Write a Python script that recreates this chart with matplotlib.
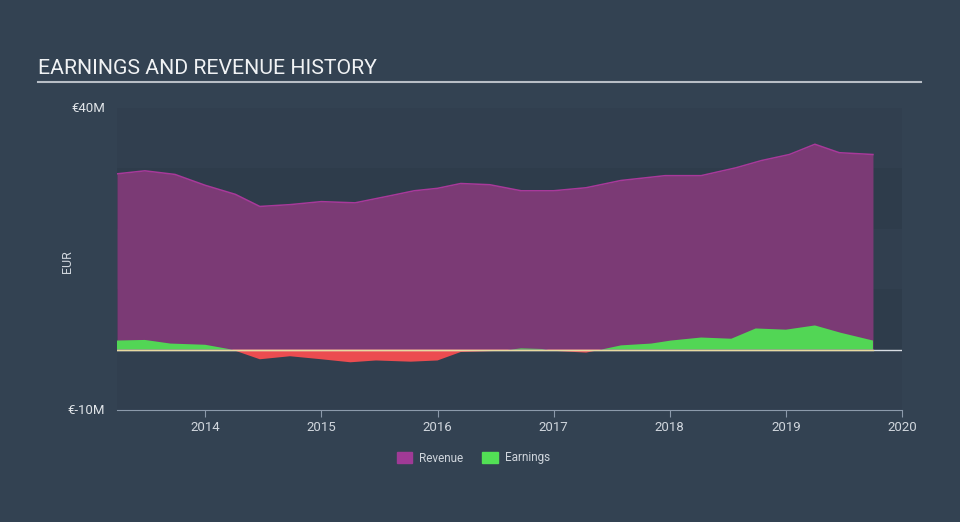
import numpy as np
import matplotlib.pyplot as plt
from matplotlib.patches import Patch

plt.rcParams['font.family'] = ['Roboto', 'DejaVu Sans']

# valeurs (millions EUR)
annees = [2013.24, 2013.48, 2013.74, 2014.0, 2014.26, 2014.47, 2014.73, 2015.0,
          2015.29, 2015.6, 2015.8, 2016.0, 2016.2, 2016.45, 2016.72, 2017.0,
          2017.28, 2017.58, 2017.96, 2018.27, 2018.57, 2018.79, 2019.03,
          2019.25, 2019.46, 2019.75]
revenus = [29.1, 29.6, 29.0, 27.2, 25.7, 23.7, 24.0, 24.5, 24.3, 25.5, 26.3,
           26.7, 27.5, 27.3, 26.3, 26.3, 26.8, 28.0, 28.8, 28.8, 30.1, 31.3,
           32.3, 34.0, 32.6, 32.3]

annees_res = [2013.24, 2013.48, 2013.7, 2014.0, 2014.23, 2014.47, 2014.73,
              2015.0, 2015.25, 2015.47, 2015.77, 2016.0, 2016.2, 2016.54,
              2016.72, 2016.9, 2017.0, 2017.28, 2017.41, 2017.58, 2017.84,
              2018.01, 2018.27, 2018.53, 2018.74, 2019.0, 2019.25, 2019.47,
              2019.75]
resultats = [1.5, 1.6, 1.0, 0.8, 0.0, -1.6, -1.1, -1.6, -2.1, -1.8, -2.0, -1.8,
             -0.4, -0.2, 0.2, 0.1, -0.2, -0.5, 0.0, 0.7, 1.0, 1.5, 2.0, 1.8,
             3.5, 3.3, 4.0, 2.8, 1.5]

fond = '#334252'
fig = plt.figure(figsize=(9.6, 5.22), dpi=100, facecolor=fond)
ax = fig.add_axes([117/960, 112/522, 785/960, 302/522])
ax.set_facecolor('#2f3d4c')

# bandes horizontales (tres discretes)
for i, (b, h) in enumerate([(30, 40), (20, 30), (10, 20), (0, 10), (-10, 0)]):
    ax.axhspan(b, h, color='#313f4f' if i % 2 == 0 else '#2e3c4b', lw=0, zorder=0)

x = np.array(annees)
r = np.array(revenus)
ax.fill_between(x, 0, r, color='#7b3a75', lw=0, zorder=2)
ax.plot(x, r, color='#a8399a', lw=1.1, zorder=3)

xe = np.array(annees_res)
e = np.array(resultats)
ax.fill_between(xe, 0, e, where=e >= 0, interpolate=True, color='#52d655', lw=0, zorder=4)
ax.fill_between(xe, 0, e, where=e <= 0, interpolate=True, color='#ec4c50', lw=0, zorder=4)

ax.axhline(0, color='#d8dde3', lw=1, zorder=5)
ax.plot([x[0], x[-1]], [0, 0], color='#e8d9a0', lw=1, zorder=6)

ax.set_xlim(2013.24, 2020.0)
ax.set_ylim(-10, 40)
for s in ['top', 'right', 'left']:
    ax.spines[s].set_visible(False)
ax.spines['bottom'].set_color('#8c9aab')
ax.set_xticks([2014, 2015, 2016, 2017, 2018, 2019, 2020])
ax.set_xticklabels(['2014', '2015', '2016', '2017', '2018', '2019', '2020'])
ax.tick_params(axis='x', colors='#8c9aab', labelcolor='#d0d6dd', labelsize=9.5, length=5, pad=3)
ax.set_yticks([])

ax.text(-0.015, 40, '€40M', transform=ax.get_yaxis_transform(), ha='right', va='center',
        color='#e0e4e8', fontsize=9.5)
ax.text(-0.015, -10, '€-10M', transform=ax.get_yaxis_transform(), ha='right', va='center',
        color='#e0e4e8', fontsize=9.5)
fig.text(68/960, 1 - 262/522, 'EUR', rotation=90, ha='center', va='center',
         color='#d0d6dd', fontsize=9)

# titre
fig.text(38/960, 1 - 68/522, 'EARNINGS AND REVENUE HISTORY', color='#f0f2f4',
         fontsize=15.3, ha='left', va='center')
fig.add_artist(plt.Line2D([38/960, 921/960], [1 - 82/522, 1 - 82/522], color='#b8bec6', lw=1.5))

handles = [Patch(color='#a03a96', label='Revenue'), Patch(color='#52e055', label='Earnings')]
leg = fig.legend(handles=handles, loc='center', bbox_to_anchor=(0.493, 1 - 458/522), ncol=2,
                 frameon=False, fontsize=8.5, handlelength=1.3, handleheight=1.0,
                 columnspacing=1.6, handletextpad=0.6)
for t in leg.get_texts():
    t.set_color('#d0d6dd')

fig.savefig('out.png', dpi=100, facecolor=fond)
